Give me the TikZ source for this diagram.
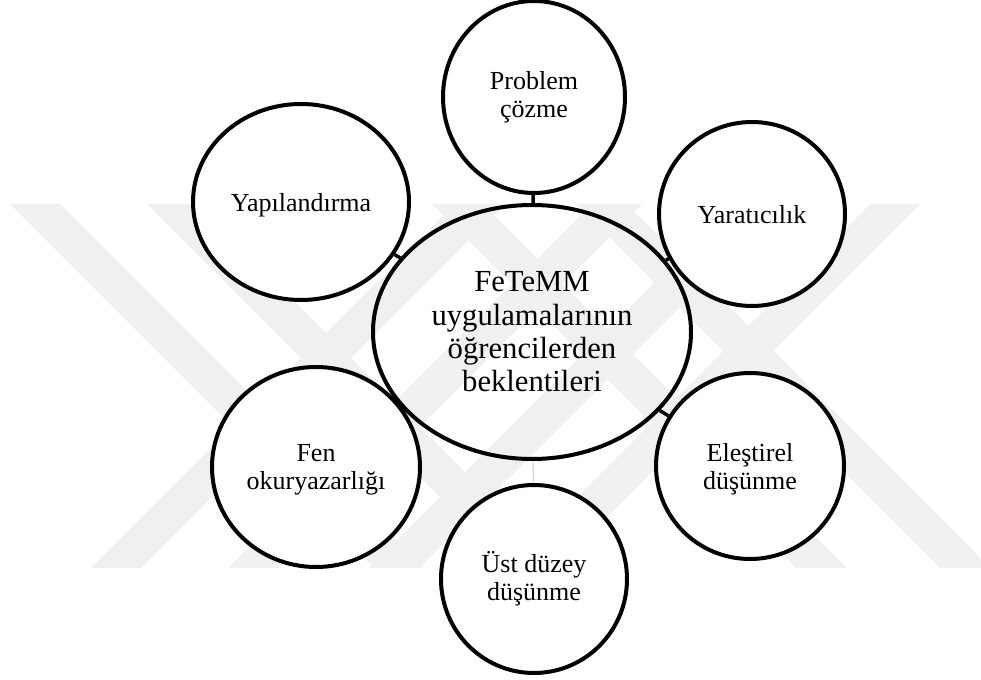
\documentclass[tikz,border=0pt]{standalone}
\usepackage{fontspec}
\setmainfont{Liberation Serif}
\usetikzlibrary{shapes.geometric}
\begin{document}
\begin{tikzpicture}[x=0.75pt,y=-0.75pt,
  bub/.style={ellipse, draw=black, fill=white, line width=3pt, inner sep=0pt, align=center,
              text depth=0pt, font=\fontsize{19.5}{21}\selectfont},
  hub/.style={ellipse, draw=black, line width=3pt, inner sep=0pt, align=center,
              font=\fontsize{23}{25}\selectfont},
  link/.style={draw=black, line width=2.6pt},
  faintlink/.style={draw=black!25, line width=0.6pt},
  wm/.style={fill=black!6, draw=none}]
\useasboundingbox (0,0) rectangle (981,680);
% faint watermark stripes
\foreach \a in {10,147,432,576}{
  \fill[wm] (\a,204) -- ({\a+50},204) -- ({\a+414},568) -- ({\a+364},568) -- cycle;
}
\foreach \b in {870,733,455,592}{
  \fill[wm] (\b,204) -- ({\b+50},204) -- ({\b-314},568) -- ({\b-364},568) -- cycle;
}
% outer bubbles
\node[bub, text depth=, minimum width=136.5pt, minimum height=144pt] (prob) at (534,97) {Problem\\çözme};
\node[bub, minimum width=162pt, minimum height=147pt] (yap) at (301,202) {Yapılandırma};
\node[bub, minimum width=139.5pt, minimum height=138pt] (yar) at (752,214) {Yaratıcılık};
\node[bub, minimum width=141pt, minimum height=139.5pt] (ele) at (750,466) {Eleştirel\\düşünme};
\node[bub, minimum width=156pt, minimum height=150pt] (fen) at (316,467) {Fen\\okuryazarlığı};
\node[bub, text depth=, minimum width=139.5pt, minimum height=141pt] (ust) at (534,579) {Üst düzey\\düşünme};
% central ellipse (no fill)
\node[hub, minimum width=238.5pt, minimum height=190.5pt] (cen) at (532,332)
      {FeTeMM\\uygulamalarının\\öğrencilerden\\beklentileri};
% connectors
\draw[link] (cen) -- (prob);
\draw[link] (cen) -- (yap);
\draw[link] (cen) -- (yar);
\draw[link] (cen) -- (ele);
\draw[faintlink] (cen) -- (ust);
\end{tikzpicture}
\end{document}
